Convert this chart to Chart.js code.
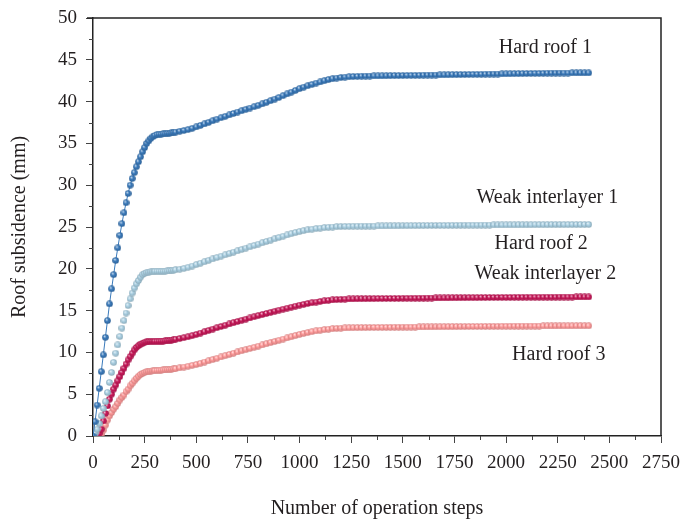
<!DOCTYPE html>
<html><head><meta charset="utf-8">
<script src="https://cdn.jsdelivr.net/npm/chart.js@4.4.1/dist/chart.umd.min.js"></script>
<style>html,body{margin:0;padding:0;background:#fff}#wrap{width:684px;height:523px;position:relative}</style>
</head><body><div id="wrap"><canvas id="c"></canvas></div>
<script>
// Operation steps (x values)
const steps = [
  0,10,20,30,40,50,60,70,80,90,100,110,120,130,140,150,160,170,180,190,
  200,210,220,230,240,250,260,270,280,290,300,310,320,330,340,350,360,370,380,390,400,
  420,440,460,480,500,520,540,560,580,600,620,640,660,680,700,720,740,760,780,800,
  820,840,860,880,900,920,940,960,980,1000,1020,1040,1060,1080,1100,1120,1140,1160,1180,1200,
  1220,1240,1260,1280,1300,
  1320,1340,1360,1380,1400,1420,1440,1460,1480,1500,1520,1540,1560,1580,1600,1620,1640,1660,1680,1700,
  1720,1740,1760,1780,1800,1820,1840,1860,1880,1900,1920,1940,1960,1980,2000,2020,2040,2060,2080,2100,
  2120,2140,2160,2180,2200,2220,2240,2260,2280,2300,2320,2340,2360,2380,2400
];
const hardRoof1 = [
  0,1.7,3.7,5.7,7.7,9.7,11.8,13.8,15.8,17.6,
  19.3,21.0,22.5,24.0,25.4,26.7,27.9,29.0,30.0,30.8,
  31.5,32.2,32.8,33.4,34.0,34.5,35.0,35.3,35.6,35.8,
  35.95,36.05,36.1,36.1,36.15,36.15,36.2,36.2,36.25,36.3,
  36.35,
  36.45,36.55,36.65,36.8,36.97,37.15,37.33,37.52,37.71,37.9,
  38.07,38.24,38.41,38.58,38.75,38.91,39.07,39.23,39.39,39.55,
  39.73,39.92,40.11,40.3,40.5,40.71,40.92,41.13,41.34,41.55,
  41.73,41.9,42.06,42.21,42.35,42.5,42.63,42.74,42.82,42.88,
  42.93,42.97,43.0,43.02,43.04,
  43.05,43.06,43.07,43.07,43.08,43.09,43.1,43.11,43.11,43.12,
  43.13,43.14,43.14,43.15,43.16,43.17,43.18,43.18,43.19,43.2,
  43.21,43.22,43.22,43.23,43.24,43.25,43.26,43.26,43.27,43.28,
  43.29,43.3,43.3,43.31,43.32,43.33,43.34,43.34,43.35,43.36,
  43.37,43.38,43.38,43.39,43.4,43.41,43.41,43.42,43.42,43.42,
  43.43,43.43,43.43,43.43,43.43
];
const weakInterlayer1 = [
  0,0.3,0.8,1.5,2.4,3.3,4.1,5.2,6.4,7.6,
  8.8,9.9,10.9,11.9,12.9,13.8,14.7,15.6,16.4,17.1,
  17.7,18.2,18.6,19.0,19.3,19.45,19.55,19.6,19.65,19.65,
  19.7,19.7,19.7,19.7,19.7,19.72,19.74,19.76,19.8,19.84,
  19.88,
  19.95,20.05,20.18,20.33,20.5,20.67,20.84,21.01,21.18,21.35,
  21.51,21.67,21.83,21.99,22.15,22.31,22.47,22.63,22.79,22.95,
  23.11,23.27,23.43,23.59,23.75,23.9,24.05,24.2,24.33,24.45,
  24.56,24.66,24.74,24.81,24.87,24.92,24.97,25.0,25.03,25.05,
  25.07,25.08,25.09,25.1,25.1,
  25.1,25.11,25.11,25.12,25.12,25.13,25.13,25.14,25.14,25.15,
  25.15,25.16,25.16,25.17,25.17,25.18,25.18,25.18,25.19,25.19,
  25.2,25.2,25.2,25.21,25.21,25.22,25.22,25.22,25.23,25.23,
  25.23,25.24,25.24,25.24,25.25,25.25,25.25,25.26,25.26,25.26,
  25.26,25.27,25.27,25.27,25.27,25.28,25.28,25.28,25.28,25.28,
  25.29,25.29,25.29,25.29,25.3
];
const weakInterlayer2 = [
  0,0,0.1,0.3,0.8,1.8,2.7,3.6,4.4,5.0,
  5.6,6.1,6.6,7.1,7.6,8.1,8.6,9.1,9.5,9.9,
  10.3,10.6,10.8,11.0,11.1,11.2,11.25,11.3,11.3,11.3,
  11.32,11.33,11.34,11.35,11.36,11.38,11.4,11.43,11.47,11.52,
  11.58,
  11.66,11.76,11.87,12.0,12.15,12.31,12.47,12.63,12.79,12.95,
  13.1,13.25,13.4,13.55,13.7,13.84,13.98,14.12,14.26,14.4,
  14.53,14.66,14.79,14.92,15.05,15.17,15.29,15.41,15.53,15.65,
  15.75,15.85,15.94,16.02,16.1,16.17,16.23,16.28,16.32,16.35,
  16.37,16.39,16.4,16.41,16.42,
  16.42,16.43,16.43,16.44,16.44,16.45,16.45,16.46,16.46,16.47,
  16.47,16.48,16.48,16.49,16.49,16.5,16.5,16.51,16.51,16.52,
  16.52,16.53,16.53,16.54,16.54,16.55,16.55,16.55,16.56,16.56,
  16.57,16.57,16.57,16.58,16.58,16.58,16.59,16.59,16.59,16.6,
  16.6,16.6,16.6,16.61,16.61,16.61,16.61,16.62,16.62,16.62,
  16.62,16.63,16.63,16.63,16.63
];
const hardRoof3 = [
  0,0,0,0,0.2,0.7,1.3,1.9,2.4,2.8,
  3.2,3.5,3.9,4.3,4.6,4.9,5.3,5.6,6.0,6.3,
  6.6,6.9,7.15,7.35,7.5,7.6,7.68,7.73,7.77,7.8,
  7.82,7.84,7.86,7.88,7.9,7.92,7.94,7.96,7.99,8.02,
  8.05,
  8.15,8.25,8.35,8.45,8.55,8.7,8.85,9.0,9.15,9.3,
  9.45,9.6,9.75,9.9,10.05,10.19,10.33,10.47,10.61,10.75,
  10.89,11.03,11.17,11.31,11.45,11.59,11.73,11.87,12.01,12.15,
  12.27,12.38,12.48,12.57,12.65,12.72,12.78,12.83,12.87,12.9,
  12.92,12.94,12.95,12.96,12.97,
  12.97,12.98,12.98,12.99,12.99,13.0,13.0,13.01,13.01,13.02,
  13.02,13.03,13.03,13.04,13.04,13.05,13.05,13.06,13.06,13.07,
  13.07,13.08,13.08,13.09,13.09,13.1,13.1,13.1,13.11,13.11,
  13.12,13.12,13.12,13.13,13.13,13.13,13.14,13.14,13.14,13.15,
  13.15,13.15,13.15,13.16,13.16,13.16,13.16,13.17,13.17,13.17,
  13.17,13.18,13.18,13.18,13.18
];
const xTickValues = [0,250,500,750,1000,1250,1500,1750,2000,2250,2500,2750];
const yTickValues = [0,5,10,15,20,25,30,35,40,45,50];
const seriesNames = ['Hard roof 1','Weak interlayer 1','Weak interlayer 2','Hard roof 3'];
const curveLabels = ['Hard roof 1','Weak interlayer 1','Hard roof 2','Weak interlayer 2','Hard roof 3'];
const curveLabelX = [2190, 2200, 2170, 2190, 2255];
const curveLabelY = [46.5, 28.5, 23.0, 19.4, 9.7];

const colors = ['#3a7abb','#a9cfe2','#c8195a','#ff9a9a'];
const FONT = '"Liberation Serif", "Times New Roman", serif';

function shade(hex, t){
  const n = parseInt(hex.slice(1),16);
  let r=(n>>16)&255,g=(n>>8)&255,b=n&255;
  if(t>0){r+= (255-r)*t; g+=(255-g)*t; b+=(255-b)*t;}
  else {r*=1+t; g*=1+t; b*=1+t;}
  return `rgb(${Math.round(r)},${Math.round(g)},${Math.round(b)})`;
}
function sphere(hex){
  const s = 7, c = document.createElement('canvas');
  c.width = s; c.height = s;
  const g = c.getContext('2d');
  const r = 3.3, cx = s/2, cy = s/2;
  const gr = g.createRadialGradient(cx-1.1, cy-1.3, 0.2, cx, cy, r);
  gr.addColorStop(0, shade(hex, 0.75));
  gr.addColorStop(0.45, hex);
  gr.addColorStop(1, shade(hex, -0.18));
  g.fillStyle = gr;
  g.beginPath(); g.arc(cx, cy, r, 0, Math.PI*2); g.fill();
  return c;
}

const seriesValues = [hardRoof1, weakInterlayer1, weakInterlayer2, hardRoof3];
const datasets = seriesValues.map((vals, i) => ({
  label: seriesNames[i],
  data: steps.map((s, k) => ({x: s, y: vals[k]})),
  borderColor: colors[i],
  backgroundColor: colors[i],
  borderWidth: 1,
  showLine: i === 0,
  pointStyle: sphere(colors[i]),
  pointRadius: 3.5,
  tension: 0
}));

const decor = {
  id: 'decor',
  afterDraw(chart){
    const {ctx, chartArea: a, scales: {x, y}} = chart;
    ctx.save();
    ctx.strokeStyle = '#444'; ctx.lineWidth = 1;
    for (let i = 0; i < yTickValues.length - 1; i++) {
      const py = Math.round(y.getPixelForValue((yTickValues[i] + yTickValues[i+1]) / 2)) + 0.5;
      ctx.beginPath(); ctx.moveTo(a.left - 4, py); ctx.lineTo(a.left, py); ctx.stroke();
    }
    for (let i = 0; i < xTickValues.length - 1; i++) {
      const px = Math.round(x.getPixelForValue((xTickValues[i] + xTickValues[i+1]) / 2)) + 0.5;
      ctx.beginPath(); ctx.moveTo(px, a.bottom); ctx.lineTo(px, a.bottom + 4); ctx.stroke();
    }
    ctx.strokeStyle = '#222'; ctx.lineWidth = 1.5;
    ctx.beginPath();
    ctx.moveTo(a.left - 6, a.top); ctx.lineTo(a.right, a.top); ctx.lineTo(a.right, a.bottom);
    ctx.stroke();
    ctx.font = '20px ' + FONT; ctx.fillStyle = '#231f20';
    ctx.textAlign = 'center'; ctx.textBaseline = 'middle';
    curveLabels.forEach((t, i) => ctx.fillText(t, x.getPixelForValue(curveLabelX[i]), y.getPixelForValue(curveLabelY[i])));
    ctx.restore();
  }
};

new Chart(document.getElementById('c'), {
  type: 'line',
  data: { datasets },
  plugins: [decor],
  options: {
    responsive: true, maintainAspectRatio: false, animation: false,
    layout: { padding: { top: 18, right: 23, left: 0, bottom: 0 } },
    plugins: { legend: { display: false }, tooltip: { enabled: false } },
    scales: {
      x: {
        type: 'linear', min: 0, max: 2750,
        afterBuildTicks: s => { s.ticks = xTickValues.map(v => ({value: v})); },
        afterFit: s => { s.height = 87; s.paddingLeft = 0; s.paddingRight = 0; },
        ticks: { font: { family: FONT, size: 19 }, color: '#231f20', padding: 9, maxRotation: 0, autoSkip: false, callback: v => String(v) },
        grid: { drawOnChartArea: false, tickLength: 7, tickColor: '#444', tickWidth: 1 },
        border: { display: true, color: '#222', width: 1.5 },
        title: { display: true, text: 'Number of operation steps', font: { family: FONT, size: 20 }, color: '#231f20', padding: { top: 0, bottom: 2 } }
      },
      y: {
        type: 'linear', min: 0, max: 50,
        afterBuildTicks: s => { s.ticks = yTickValues.map(v => ({value: v})); },
        afterFit: s => { s.width = 93; s.paddingTop = 0; s.paddingBottom = 0; },
        ticks: { font: { family: FONT, size: 19 }, color: '#231f20', padding: 9, callback: v => String(v) },
        grid: { drawOnChartArea: false, tickLength: 7, tickColor: '#444', tickWidth: 1 },
        border: { display: true, color: '#222', width: 1.5 },
        title: { display: true, text: 'Roof subsidence (mm)', font: { family: FONT, size: 20 }, color: '#231f20', padding: { top: 8, bottom: 0 } }
      }
    }
  }
});
</script></body></html>
